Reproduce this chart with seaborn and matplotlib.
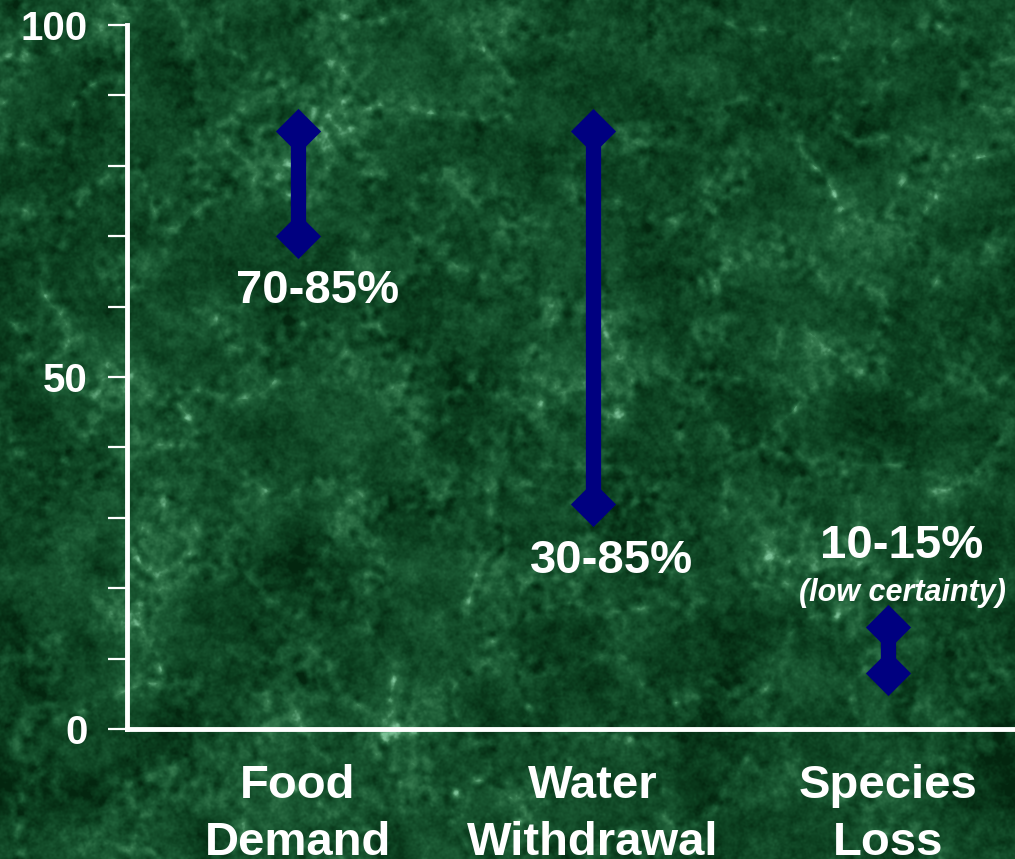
import matplotlib
matplotlib.use('Agg')
import matplotlib.pyplot as plt
from matplotlib.colors import LinearSegmentedColormap
import numpy as np
import pandas as pd
import seaborn as sns

# data
categories = ['Food\nDemand', 'Water\nWithdrawal', 'Species\nLoss']
low = [70, 32, 8]
high = [85, 85, 14.5]
range_labels = ['70-85%', '30-85%', '10-15%']
y_ticks = list(range(0, 101, 10))
y_tick_labels = ['0', '', '', '', '', '50', '', '', '', '', '100']

df = pd.DataFrame({'cat': categories * 2, 'val': low + high,
                   'pos': [0, 1, 2] * 2})

sns.set_theme(style='white')
plt.rcParams['font.family'] = ['Liberation Sans', 'DejaVu Sans']
plt.rcParams['font.weight'] = 'bold'


# %%
# marble-like background (decoration only)
def blur_noise(shape, sigma, rng):
    n = rng.standard_normal(shape)
    fy = np.fft.fftfreq(shape[0])[:, None]
    fx = np.fft.fftfreq(shape[1])[None, :]
    g = np.exp(-2 * (np.pi * sigma) ** 2 * (fx ** 2 + fy ** 2))
    out = np.real(np.fft.ifft2(np.fft.fft2(n) * g))
    return (out - out.mean()) / out.std()


rng = np.random.default_rng(3)
H, W = 859, 1015
base = 0.5 * blur_noise((H, W), 40, rng) + 0.5 * blur_noise((H, W), 14, rng)
veins = np.exp(-np.abs(blur_noise((H, W), 22, rng)) * 2.0)
mottle = blur_noise((H, W), 3, rng)
grain = blur_noise((H, W), 1.0, rng)
tex = 1.0 * base + 1.3 * veins * (1 + 0.6 * mottle) + 0.35 * mottle + 0.25 * grain
tex = (tex - tex.min()) / (tex.max() - tex.min())
marble = LinearSegmentedColormap.from_list(
    'marble', ['#03260f', '#0c4020', '#1b5a34', '#35794e', '#7bc096'])

fig = plt.figure(figsize=(10.15, 8.59), dpi=100)
bg = fig.add_axes([0, 0, 1, 1], zorder=0)
bg.imshow(tex, cmap=marble, aspect='auto', vmin=0.15, vmax=0.92)
bg.axis('off')

ax = fig.add_axes([0.125, 0.1513, 0.875, 0.8196], zorder=1)
ax.patch.set_alpha(0)

navy = '#000080'
ax.vlines(df['pos'][:3], low, high, color=navy, lw=11, zorder=2)
sns.scatterplot(data=df, x='pos', y='val', marker='D', s=23 ** 2,
                color=navy, edgecolor=navy, linewidth=0, ax=ax, zorder=3)

ax.text(0.068, 62.2, range_labels[0], color='white', fontsize=34,
        fontweight='bold', ha='center', va='center')
ax.text(1.064, 23.8, range_labels[1], color='white', fontsize=34,
        fontweight='bold', ha='center', va='center')
ax.text(2.047, 26.0, range_labels[2], color='white', fontsize=34,
        fontweight='bold', ha='center', va='center')
ax.text(2.05, 19.3, '(low certainty)', color='white', fontsize=22,
        fontweight='bold', fontstyle='italic', ha='center', va='center')

ax.set_xlim(-0.58, 2.431)
ax.set_ylim(0, 100)
ax.set_xticks([0, 1, 2])
ax.set_xticklabels(categories, color='white', fontsize=34, fontweight='bold',
                   linespacing=1.38)
ax.set_yticks(y_ticks)
ax.set_yticklabels(y_tick_labels, color='white', fontsize=29, fontweight='bold')
ax.tick_params(axis='x', length=0, pad=25)
ax.tick_params(axis='y', length=14, width=1.6, color='white', direction='out',
               pad=14, left=True)
ax.set_xlabel('')
ax.set_ylabel('')
for side in ['top', 'right']:
    ax.spines[side].set_visible(False)
for side in ['left', 'bottom']:
    ax.spines[side].set_color('white')
    ax.spines[side].set_linewidth(3.5)
ax.grid(False)

fig.savefig('out.png', dpi=100)
